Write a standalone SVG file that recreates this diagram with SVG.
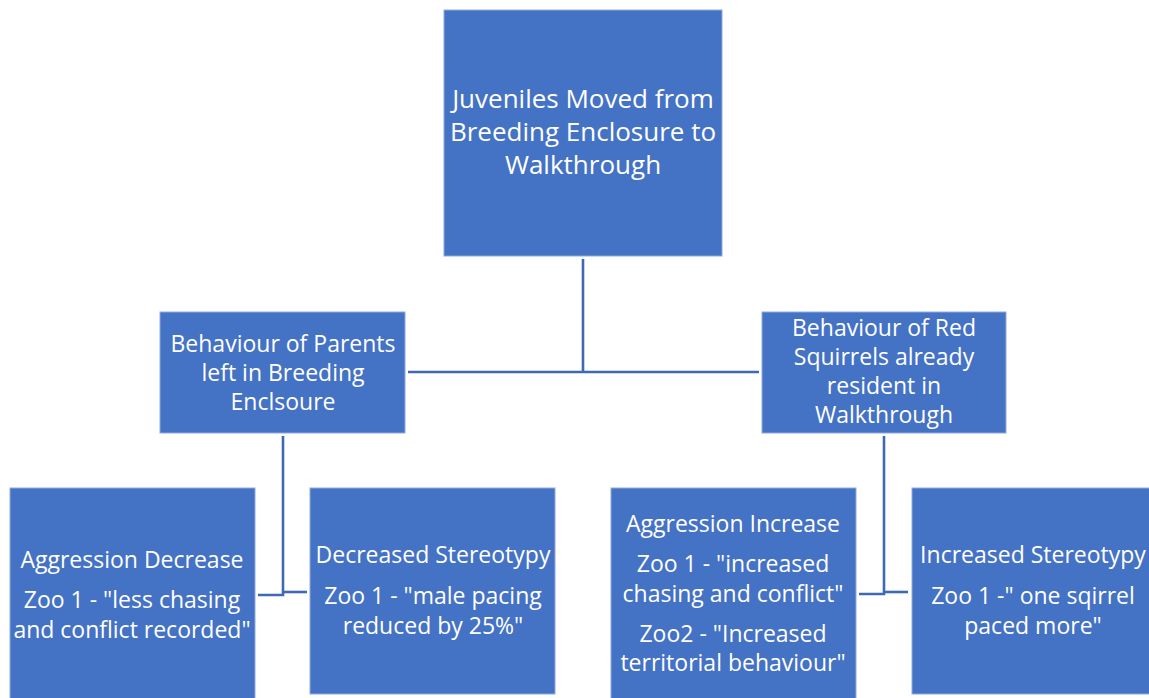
<svg xmlns="http://www.w3.org/2000/svg" width="1149" height="698" viewBox="0 0 1149 698">
<style>
.box{fill:#4472C4;stroke:#8FAADC;stroke-width:1}
.t{font-family:"Open Sans","Noto Sans","Liberation Sans",sans-serif;fill:#fff;text-anchor:middle;font-size:23px}
.big{font-size:26px}
.c{fill:none;stroke:#3F68B5;stroke-width:2.6}
</style>
<rect width="1149" height="698" fill="#fff"/>
<g id="connectors">
<path class="c" d="M583,259 V372"/>
<path class="c" d="M408,372 H759"/>
<path class="c" d="M283,436 V595 H258"/>
<path class="c" d="M283,592 H307"/>
<path class="c" d="M884,436 V594 H859"/>
<path class="c" d="M884,592 H908"/>
</g>
<g id="root">
<rect class="box" x="444" y="10" width="278" height="246"/>
<text class="t big" x="583" y="108">Juveniles Moved from</text>
<text class="t big" x="583" y="141">Breeding Enclosure to</text>
<text class="t big" x="583" y="174">Walkthrough</text>
</g>
<g id="parents">
<rect class="box" x="160" y="312" width="245" height="121"/>
<text class="t" x="283" y="352">Behaviour of Parents</text>
<text class="t" x="283" y="381">left in Breeding</text>
<text class="t" x="283" y="410">Enclsoure</text>
</g>
<g id="residents">
<rect class="box" x="762" y="312" width="244" height="121"/>
<text class="t" x="884" y="336">Behaviour of Red</text>
<text class="t" x="884" y="365">Squirrels already</text>
<text class="t" x="884" y="394">resident in</text>
<text class="t" x="884" y="423">Walkthrough</text>
</g>
<g id="aggr-decrease">
<rect class="box" x="10" y="488" width="245" height="215"/>
<text class="t" x="132" y="568">Aggression Decrease</text>
<text class="t" x="132" y="608">Zoo 1 - "less chasing</text>
<text class="t" x="132" y="638">and conflict recorded"</text>
</g>
<g id="stereo-decrease">
<rect class="box" x="310" y="488" width="245" height="206"/>
<text class="t" x="433" y="563">Decreased Stereotypy</text>
<text class="t" x="433" y="604">Zoo 1 - "male pacing</text>
<text class="t" x="433" y="634">reduced by 25%"</text>
</g>
<g id="aggr-increase">
<rect class="box" x="611" y="488" width="245" height="215"/>
<text class="t" x="733" y="532">Aggression Increase</text>
<text class="t" x="733" y="572">Zoo 1 - "increased</text>
<text class="t" x="733" y="602">chasing and conflict"</text>
<text class="t" x="733" y="642">Zoo2 - "Increased</text>
<text class="t" x="733" y="671">territorial behaviour"</text>
</g>
<g id="stereo-increase">
<rect class="box" x="912" y="488" width="245" height="206"/>
<text class="t" x="1033" y="563">Increased Stereotypy</text>
<text class="t" x="1033" y="604">Zoo 1 -" one sqirrel</text>
<text class="t" x="1033" y="634">paced more"</text>
</g>
</svg>
